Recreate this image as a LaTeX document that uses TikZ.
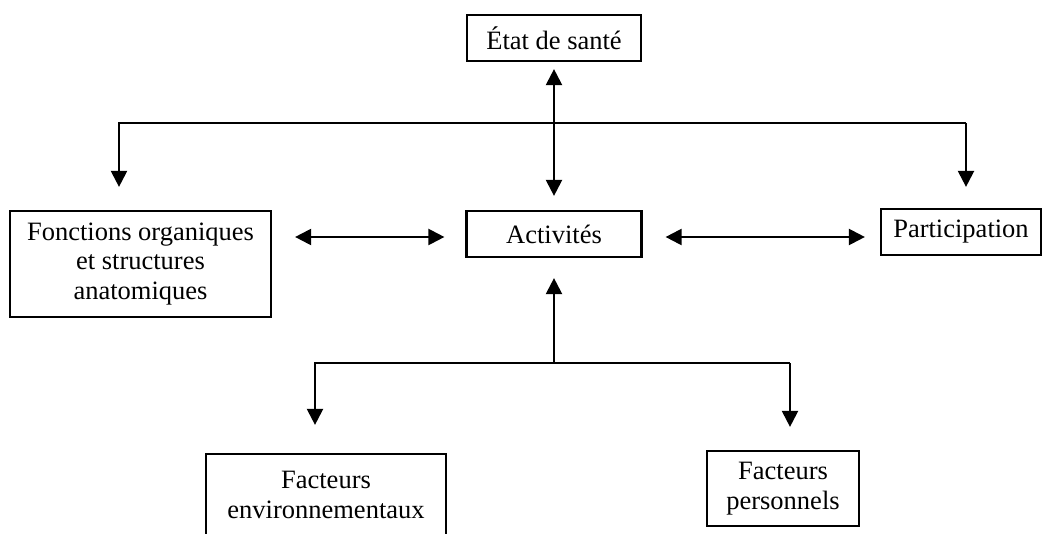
\documentclass[tikz,border=0pt]{standalone}
\usepackage{fontspec}
\setmainfont{Liberation Serif}
\usetikzlibrary{arrows.meta}
\tikzset{
  boite/.style={draw,line width=2.2pt,align=center,inner sep=0pt,font=\fontsize{26.5}{29.5}\selectfont},
  fleche/.style={line width=2.2pt,-{Triangle[length=16pt,width=16pt]}},
  dfleche/.style={line width=2.2pt,{Triangle[length=16pt,width=16pt]}-{Triangle[length=16pt,width=16pt]}}
}
\begin{document}
\begin{tikzpicture}[x=1pt,y=-1pt]
\useasboundingbox (0,0) rectangle (1046,534);
\clip (0,0) rectangle (1046,534);
\foreach \n/\x/\y/\w/\h/\t in {etat/554/38/174/46/{État de santé},
    activ/554/234/175/46/{Activités},
    partic/961/232/160/46/{Participation},
    fonc/140.5/264/261/106/{Fonctions organiques\\et structures\\anatomiques},
    env/326/495/240/82/{Facteurs\\environnementaux},
    pers/783/488.5/152/75/{Facteurs\\personnels}}
  \node[boite,minimum width=\w,minimum height=\h](\n)at(\x,\y){\t};
\coordinate (hg) at (119,123);
\coordinate (hd) at (966,123);
\coordinate (bg) at (315,363);
\coordinate (bd) at (790,363);
\draw[dfleche,shorten <=7pt,shorten >=14pt](etat)--(activ);
\draw[fleche,shorten >=23pt](hd)--(hg)--(hg|-fonc.north);
\draw[fleche,shorten >=21pt](hd)--(hd|-partic.north);
\draw[dfleche,shorten <=23pt,shorten >=21pt]([yshift=-3pt]fonc.east|-activ)--([yshift=-3pt]activ.west);
\draw[dfleche,shorten <=23pt,shorten >=15pt]([yshift=-3pt]activ.east)--([yshift=-3pt]activ.east-|partic.west);
\draw[fleche,shorten >=20pt](activ|-bg)--(activ);
\draw[fleche,shorten >=28pt](bd)--(bg)--(bg|-env.north);
\draw[fleche,shorten >=23pt](bd)--(bd|-pers.north);
\end{tikzpicture}
\end{document}
